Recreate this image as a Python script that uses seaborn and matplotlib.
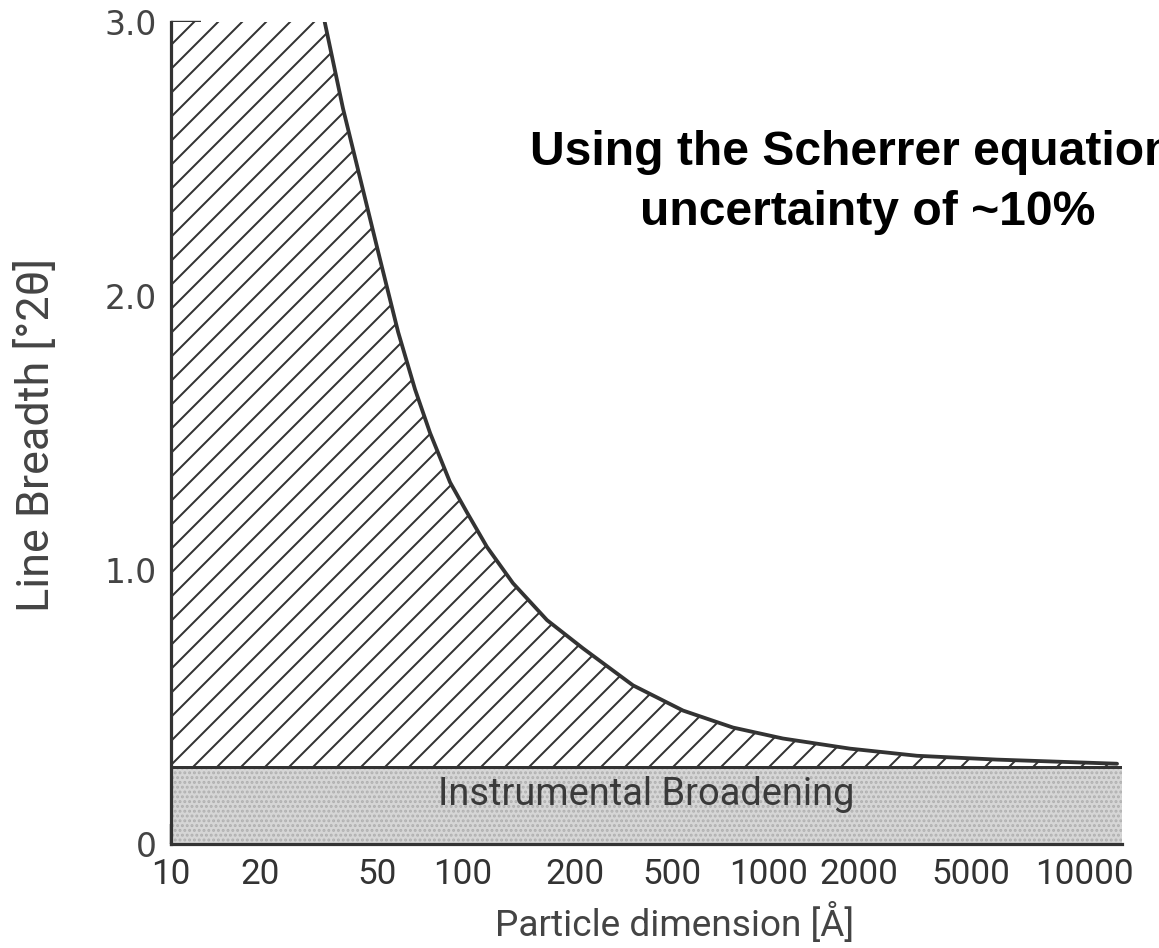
import numpy as np
import pandas as pd
import matplotlib
matplotlib.use("Agg")
import matplotlib.pyplot as plt
from matplotlib.scale import FuncScale
import seaborn as sns

# Particle size (Å) vs. total line breadth (°2θ)
particle_size = [33.2, 38.3, 44.5, 51.2, 59.3, 67.9, 76.7, 90.1, 102.5, 116.0,
                 136.2, 168.2, 215.7, 345.9, 541, 773, 1113, 1866, 3214, 5866, 12830]
line_breadth = [3.0, 2.685, 2.40, 2.135, 1.868, 1.66, 1.50, 1.32, 1.21, 1.084,
                0.952, 0.817, 0.714, 0.579, 0.487, 0.425, 0.385, 0.348, 0.322, 0.308, 0.293]

instrumental_breadth = 0.28

x_ticks = [10, 20, 50, 100, 200, 500, 1000, 2000, 5000, 10000]
x_tick_labels = ["10", "20", "50", "100", "200", "500", "1000", "2000", "5000", "10000"]
y_major = [0, 1.0, 2.0, 3.0]
y_major_labels = ["0", "1.0", "2.0", "3.0"]
y_minor = [0.5, 1.5, 2.5]

X_MIN, X_MAX = 10, 13320
Y_MIN, Y_MAX = 0, 3.0

# The printed size axis is logarithmic but hand-ruled: each labelled decade
# step sits at its own spacing.  Knots map log10(size) -> ruler position.
_knot_log = np.log10([10, 20, 50, 100, 200, 500, 1000, 2000, 5000, 10000, 13320])
_knot_pos = np.array([0, 89, 206, 292, 404, 501, 598, 688, 800, 913, 951], float)


def _fwd(v):
    v = np.clip(np.asarray(v, float), 1e-3, None)
    return np.interp(np.log10(v), _knot_log, _knot_pos,
                     left=-1e3, right=2e3)


def _inv(p):
    return 10 ** np.interp(np.asarray(p, float), _knot_pos, _knot_log)


df = pd.DataFrame({"size": particle_size, "breadth": line_breadth})

sns.set_theme(style="ticks")
plt.rcParams["font.family"] = ["DejaVu Sans"]
plt.rcParams["hatch.linewidth"] = 1.0

INK = "#333333"
label_font = ["Roboto", "DejaVu Sans"]

fig = plt.figure(figsize=(1159 / 144, 948 / 144), dpi=144)
ax = fig.add_axes([171 / 1159, 1 - 844 / 948, (1122 - 171) / 1159, (844 - 22) / 948])
ax.set_xscale(FuncScale(ax.xaxis, (_fwd, _inv)))
ax.set_xlim(X_MIN, X_MAX)
ax.set_ylim(Y_MIN, Y_MAX)

# instrumental broadening band
ax.fill_between([X_MIN, X_MAX], 0, instrumental_breadth,
                facecolor="#d6d6d6", edgecolor="#b0b0b0", hatch=".....",
                linewidth=0, zorder=1)
ax.axhline(instrumental_breadth, color=INK, lw=1.5, zorder=3)

# hatched size-broadening region between the band and the curve
fill_x = [X_MIN] + particle_size
fill_y = [Y_MAX] + line_breadth
ax.fill_between(fill_x, instrumental_breadth, fill_y, facecolor="white",
                edgecolor=INK, hatch="//", linewidth=0, zorder=2)

sns.lineplot(data=df, x="size", y="breadth", ax=ax, color=INK, lw=1.9,
             zorder=4, legend=False)
for ln in ax.lines:
    ln.set_solid_joinstyle("round")

ax.text(0.5, 0.142, "Instrumental Broadening", transform=ax.get_yaxis_transform(),
        ha="center", va="baseline", fontsize=19, color="#3a3a3a",
        family=label_font, zorder=5)

# axes styling
for side in ("top", "right"):
    ax.spines[side].set_visible(False)
for side in ("left", "bottom"):
    ax.spines[side].set_color(INK)
    ax.spines[side].set_linewidth(1.6)
    ax.spines[side].set_zorder(6)

ax.set_xticks(x_ticks)
ax.set_xticklabels(x_tick_labels, family=label_font, fontsize=17.5, color="#333333")
ax.xaxis.set_minor_locator(matplotlib.ticker.NullLocator())
ax.tick_params(axis="x", direction="in", length=10, width=1.2, color=INK, pad=7)

ax.set_yticks(y_major)
ax.set_yticklabels(y_major_labels, fontsize=16.5, color="#444444")
ax.set_yticks(y_minor, minor=True)
ax.tick_params(axis="y", which="both", direction="in", length=15, width=1.2,
               color=INK, pad=7)

ax.set_xlabel("Particle dimension [Å]", family=label_font, fontsize=18.5,
              color="#444444")
ax.xaxis.set_label_coords((675 - 171) / 951, (844 - 903) / 822)
ax.set_ylabel("Line Breadth [°2θ]", family=label_font, fontsize=22.5,
              color="#444444")
ax.yaxis.set_label_coords((58 - 171) / 951, 0.4976)
ax.grid(False)

fig.text(530 / 1159, 1 - 165 / 948, "Using the Scherrer equation",
         fontsize=24, fontweight="bold", family="Liberation Sans",
         color="black", ha="left", va="baseline")
fig.text(640 / 1159, 1 - 225 / 948, "uncertainty of ~10%",
         fontsize=24, fontweight="bold", family="Liberation Sans",
         color="black", ha="left", va="baseline")

fig.savefig("out.png", dpi=144, facecolor="white")
